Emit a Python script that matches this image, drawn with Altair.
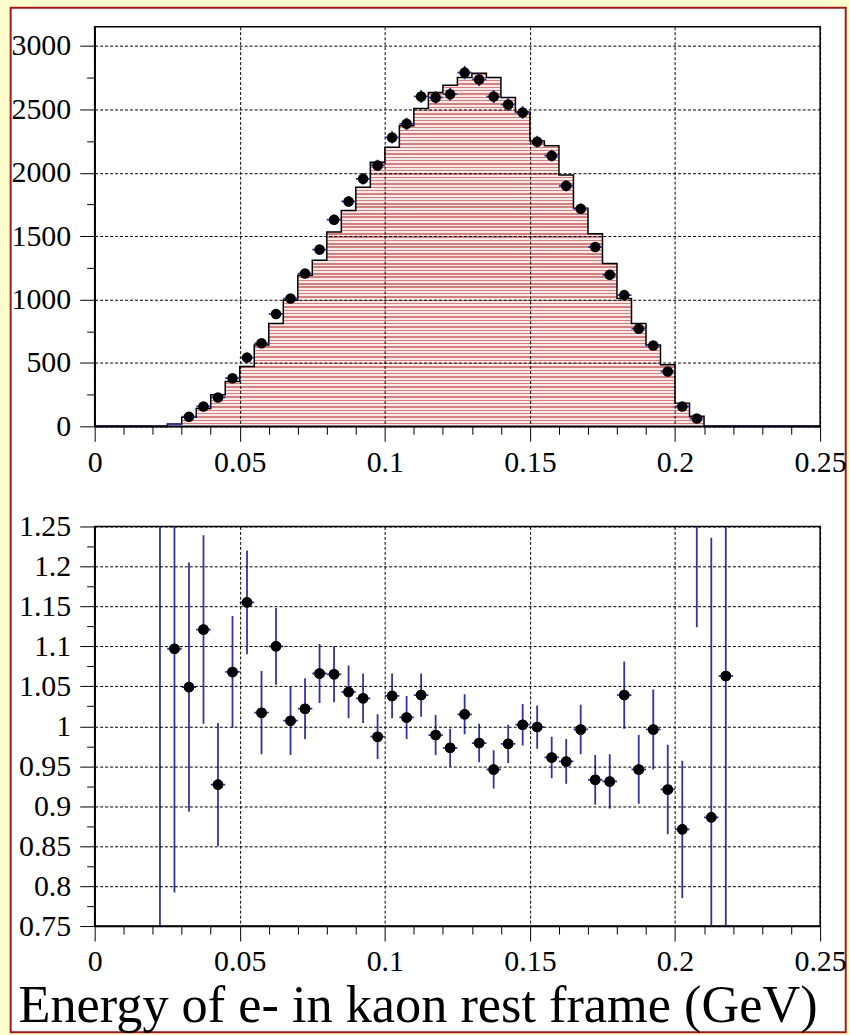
import altair as alt
import pandas as pd

# ---------------- data ----------------
# MC histogram: left edges of 0.005 GeV bins and contents
bin_left = [0.000, 0.005, 0.010, 0.015, 0.020, 0.025, 0.030, 0.035, 0.040, 0.045,
            0.050, 0.055, 0.060, 0.065, 0.070, 0.075, 0.080, 0.085, 0.090, 0.095,
            0.100, 0.105, 0.110, 0.115, 0.120, 0.125, 0.130, 0.135, 0.140, 0.145,
            0.150, 0.155, 0.160, 0.165, 0.170, 0.175, 0.180, 0.185, 0.190, 0.195,
            0.200, 0.205, 0.210, 0.215, 0.220, 0.225, 0.230, 0.235, 0.240, 0.245]
mc_counts = [0, 0, 0, 0, 0, 18, 72, 140, 249, 354,
             472, 642, 812, 996, 1192, 1310, 1533, 1703, 1886, 2083,
             2201, 2371, 2507, 2633, 2690, 2751, 2785, 2751, 2594, 2480,
             2250, 2214, 1983, 1721, 1519, 1284, 1009, 812, 642, 485,
             183, 79, 0, 0, 0, 0, 0, 0, 0, 0]
hist_end = 0.25

# data points (bin centres, contents, vertical errors)
pt_x = [0.0325, 0.0375, 0.0425, 0.0475, 0.0525, 0.0575, 0.0625, 0.0675, 0.0725, 0.0775,
        0.0825, 0.0875, 0.0925, 0.0975, 0.1025, 0.1075, 0.1125, 0.1175, 0.1225, 0.1275,
        0.1325, 0.1375, 0.1425, 0.1475, 0.1525, 0.1575, 0.1625, 0.1675, 0.1725, 0.1775,
        0.1825, 0.1875, 0.1925, 0.1975, 0.2025, 0.2075]
pt_y = [76, 157, 228, 380, 542, 655, 886, 1009, 1205, 1394,
        1630, 1774, 1952, 2058, 2279, 2386, 2602, 2594, 2620, 2790,
        2736, 2601, 2538, 2476, 2245, 2135, 1897, 1716, 1415, 1195,
        1035, 770, 637, 432, 157, 62]
pt_err = [9, 13, 15, 20, 23, 26, 30, 32, 35, 37,
          40, 42, 44, 45, 48, 49, 51, 51, 51, 53,
          52, 51, 50, 50, 47, 46, 44, 41, 38, 35,
          32, 28, 25, 21, 13, 8]

# data bins shown only as horizontal error bars (no marker)
bar_only_x = [0.0025, 0.0075, 0.0125, 0.0175, 0.0225, 0.0275,
              0.2125, 0.2175, 0.2225, 0.2275, 0.2325, 0.2375, 0.2425, 0.2475]
bar_only_y = [0, 0, 0, 0, 0, 17, 0, 0, 0, 0, 0, 0, 0, 0]

# ratio panel
ratio_x = [0.0225, 0.0275, 0.0325, 0.0375, 0.0425, 0.0475, 0.0525, 0.0575, 0.0625, 0.0675,
           0.0725, 0.0775, 0.0825, 0.0875, 0.0925, 0.0975, 0.1025, 0.1075, 0.1125, 0.1175,
           0.1225, 0.1275, 0.1325, 0.1375, 0.1425, 0.1475, 0.1525, 0.1575, 0.1625, 0.1675,
           0.1725, 0.1775, 0.1825, 0.1875, 0.1925, 0.1975, 0.2025, 0.2075, 0.2125, 0.2175]
ratio_y = [0.60, 1.097, 1.049, 1.121, 0.927, 1.068, 1.155, 1.017, 1.100, 1.007,
           1.022, 1.066, 1.065, 1.043, 1.035, 0.987, 1.038, 1.011, 1.039, 0.989,
           0.973, 1.015, 0.979, 0.946, 0.978, 1.002, 0.999, 0.961, 0.956, 0.996,
           0.933, 0.931, 1.039, 0.946, 0.996, 0.921, 0.871, 1.38, 0.886, 1.063]
ratio_err = [0.80, 0.305, 0.156, 0.118, 0.077, 0.070, 0.065, 0.052, 0.048, 0.043,
             0.038, 0.037, 0.035, 0.033, 0.031, 0.028, 0.028, 0.027, 0.027, 0.025,
             0.024, 0.025, 0.024, 0.024, 0.024, 0.026, 0.027, 0.026, 0.028, 0.031,
             0.031, 0.034, 0.042, 0.043, 0.050, 0.056, 0.086, 0.256, 0.350, 0.450]
half_bin = 0.0025

# axis ticks
x_ticks = [0.00, 0.01, 0.02, 0.03, 0.04, 0.05, 0.06, 0.07, 0.08, 0.09, 0.10, 0.11, 0.12,
           0.13, 0.14, 0.15, 0.16, 0.17, 0.18, 0.19, 0.20, 0.21, 0.22, 0.23, 0.24, 0.25]
top_y_ticks = [0, 250, 500, 750, 1000, 1250, 1500, 1750, 2000, 2250, 2500, 2750, 3000]
bot_y_ticks = [0.75, 0.775, 0.80, 0.825, 0.85, 0.875, 0.90, 0.925, 0.95, 0.975, 1.00,
               1.025, 1.05, 1.075, 1.10, 1.125, 1.15, 1.175, 1.20, 1.225, 1.25]
x_title = "Energy of e- in kaon rest frame (GeV)"

# ---------------- styling ----------------
FONT = "Liberation Serif"
BLUE = "#3333A0"
BORDER = "#9E1B1B"
W, H = 728, 401
TICK_FS = 30
DOT = 112

# striped (hatched) fill like the ROOT fill pattern
STRIPE_DARK = "#D67F7F"
STRIPE_LIGHT = "#F9E9E9"
N_STRIPES = 106
stops = []
for i in range(N_STRIPES):
    a = i / N_STRIPES
    b = (i + 0.42) / N_STRIPES
    c = (i + 1) / N_STRIPES
    stops += [alt.GradientStop(offset=a, color=STRIPE_DARK), alt.GradientStop(offset=b, color=STRIPE_DARK),
              alt.GradientStop(offset=b, color=STRIPE_LIGHT), alt.GradientStop(offset=c, color=STRIPE_LIGHT)]
HATCH = alt.LinearGradient(gradient="linear", stops=stops, x1=0, x2=0, y1=0, y2=1)

hist_df = pd.DataFrame({"lo": bin_left + [hist_end], "n": mc_counts + [0]})
pts_df = pd.DataFrame({"x": pt_x, "y": pt_y, "e": pt_err})
pts_df["lo"] = pts_df["x"] - half_bin
pts_df["hi"] = pts_df["x"] + half_bin
pts_df["ylo"] = pts_df["y"] - pts_df["e"]
pts_df["yhi"] = pts_df["y"] + pts_df["e"]
bar_df = pd.DataFrame({"x": bar_only_x, "y": bar_only_y})
bar_df["lo"] = bar_df["x"] - half_bin
bar_df["hi"] = bar_df["x"] + half_bin
rat_df = pd.DataFrame({"x": ratio_x, "y": ratio_y, "e": ratio_err})
rat_df["lo"] = rat_df["x"] - half_bin
rat_df["hi"] = rat_df["x"] + half_bin
rat_df["ylo"] = rat_df["y"] - rat_df["e"]
rat_df["yhi"] = rat_df["y"] + rat_df["e"]
one_row = pd.DataFrame({"k": [0]})

X_MAJOR = "round(datum.value*100) % 5 == 0"


def common_axis(**kw):
    base = dict(
        grid=True, gridColor="black", gridDash=[3, 2], gridWidth=1,
        domainColor="black", domainWidth=1.5,
        tickColor="black", tickWidth=1,
        labelFont=FONT, labelFontSize=TICK_FS, labelColor="black",
        labelFlush=False, labelOverlap=False, zindex=1,
    )
    base.update(kw)
    return alt.Axis(**base)


def x_axis(title=None, **kw):
    return common_axis(
        values=x_ticks,
        labelExpr="(" + X_MAJOR + ") ? toString(round(datum.value*100)/100) : ''",
        tickSize={"condition": {"test": X_MAJOR, "value": 15}, "value": 8},
        gridOpacity={"condition": {"test": X_MAJOR, "value": 1}, "value": 0},
        labelPadding=6, title=title, **kw)


x_scale = alt.Scale(domain=[0, 0.25], nice=False, zero=False)
top_y_scale = alt.Scale(domain=[0, 3152], nice=False)
bot_y_scale = alt.Scale(domain=[0.75, 1.25], nice=False, zero=False)

Y_TOP_MAJOR = "datum.value % 500 == 0"
TOP_X_AXIS = x_axis()
TOP_Y_AXIS = common_axis(values=top_y_ticks, title=None,
                         labelExpr="(" + Y_TOP_MAJOR + ") ? toString(datum.value) : ''",
                         tickSize={"condition": {"test": Y_TOP_MAJOR, "value": 15}, "value": 8},
                         gridOpacity={"condition": {"test": Y_TOP_MAJOR, "value": 1}, "value": 0},
                         labelPadding=9)


def tx(field):
    return alt.X(field, type="quantitative", scale=x_scale, axis=TOP_X_AXIS)


def ty(field):
    return alt.Y(field, type="quantitative", scale=top_y_scale, axis=TOP_Y_AXIS)


# white sheet with a dark-red edge behind the whole figure (decoration)
sheet = alt.Chart(one_row).mark_rect(fill="white", stroke=BORDER, strokeWidth=2).encode(
    x=alt.value(-84.3), x2=alt.value(753.7), y=alt.value(-19), y2=alt.value(1009))
area = alt.Chart(hist_df).mark_area(interpolate="step-after", fill=HATCH).encode(x=tx("lo"), y=ty("n"))
outline = alt.Chart(hist_df).mark_line(interpolate="step-after", color="black", strokeWidth=1.5).encode(
    x=tx("lo"), y=ty("n"))
bar_only = alt.Chart(bar_df).mark_rule(color=BLUE, strokeWidth=2).encode(
    x=tx("lo"), x2="hi:Q", y=ty("y"))
pt_xerr = alt.Chart(pts_df).mark_rule(color=BLUE, strokeWidth=1.8).encode(
    x=tx("lo"), x2="hi:Q", y=ty("y"))
pt_yerr = alt.Chart(pts_df).mark_rule(color=BLUE, strokeWidth=1.8).encode(
    x=tx("x"), y=ty("ylo"), y2="yhi:Q")
pt_dot = alt.Chart(pts_df).mark_circle(size=DOT, color="black", opacity=1).encode(
    x=tx("x"), y=ty("y"))
frame = alt.Chart(one_row).mark_rect(fillOpacity=0, stroke="black", strokeWidth=1.5).encode(
    x=alt.value(0), x2=alt.value(W), y=alt.value(0), y2=alt.value(H))

top = alt.layer(area, sheet, area, outline, bar_only, pt_xerr, pt_yerr, pt_dot, frame).properties(
    width=W, height=H)

# ---------------- ratio panel ----------------
Y_BOT_MAJOR = "round(datum.value*1000) % 50 == 0"
BOT_X_AXIS = x_axis(title=x_title, titleFont=FONT, titleFontSize=52.5, titleFontWeight="normal",
                    titleColor="black", titleAnchor="end", titleAlign="right",
                    titleX=W - 3, titleBaseline="alphabetic", titleY=96)
BOT_Y_AXIS = common_axis(values=bot_y_ticks, title=None,
                         labelExpr="(" + Y_BOT_MAJOR + ") ? toString(round(datum.value*100)/100) : ''",
                         tickSize={"condition": {"test": Y_BOT_MAJOR, "value": 15}, "value": 8},
                         gridOpacity={"condition": {"test": Y_BOT_MAJOR, "value": 1}, "value": 0},
                         labelPadding=9)


def bx(field):
    return alt.X(field, type="quantitative", scale=x_scale, axis=BOT_X_AXIS)


def by(field):
    return alt.Y(field, type="quantitative", scale=bot_y_scale, axis=BOT_Y_AXIS)


r_yerr = alt.Chart(rat_df).mark_rule(color=BLUE, strokeWidth=1.8, clip=True).encode(
    x=bx("x"), y=by("ylo"), y2="yhi:Q")
r_xerr = alt.Chart(rat_df).mark_rule(color=BLUE, strokeWidth=1.8, clip=True).encode(
    x=bx("lo"), x2="hi:Q", y=by("y"))
r_dot = alt.Chart(rat_df).mark_circle(size=DOT, color="black", opacity=1, clip=True).encode(
    x=bx("x"), y=by("y"))

bottom = alt.layer(r_dot, r_yerr, r_xerr, r_dot).properties(width=W, height=H)

chart = alt.vconcat(top, bottom, spacing=100.5, bounds="flush").configure(
    background="#FFFFCC",
    padding={"left": 8, "top": 4, "right": 2, "bottom": 1},
).configure_view(stroke="black", strokeWidth=1.5)

chart.save("out.html", embed_options={"renderer": "svg", "actions": False})
